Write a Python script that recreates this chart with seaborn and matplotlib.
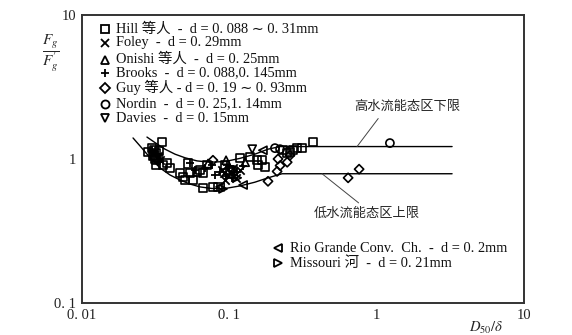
import matplotlib
matplotlib.use('Agg')
import matplotlib.pyplot as plt
import seaborn as sns
import pandas as pd
from matplotlib.lines import Line2D
from matplotlib.ticker import FixedLocator, NullLocator, FixedFormatter

sns.set_theme(style='white')
plt.rcParams['font.family'] = ['Liberation Serif', 'Noto Sans CJK SC', 'DejaVu Sans']
plt.rcParams['mathtext.fontset'] = 'stix'

# ---------------- data ----------------
hill_x = [0.0349, 0.0281, 0.0299, 0.0308, 0.0310, 0.0320, 0.0328, 0.0318, 0.0303, 0.0320,
          0.0355, 0.0377, 0.0396, 0.0462, 0.0485, 0.0500, 0.0567, 0.0541, 0.0604, 0.0633,
          0.0663, 0.0706, 0.0663, 0.0838, 0.0774, 0.118, 0.138, 0.154, 0.157, 0.175,
          0.167, 0.232, 0.247, 0.258, 0.271, 0.288, 0.312, 0.370, 0.0935, 0.101, 0.0525,
          0.0314, 0.0334]
hill_y = [1.31, 1.12, 1.19, 1.155, 1.07, 1.10, 1.02, 0.98, 1.05, 0.91,
          0.91, 0.94, 0.866, 0.80, 0.75, 0.715, 0.715, 0.80, 0.81, 0.84,
          0.80, 0.91, 0.63, 0.64, 0.64, 1.02, 1.03, 0.98, 0.91, 0.88,
          0.98, 1.155, 1.10, 1.12, 1.155, 1.19, 1.19, 1.31, 0.91, 0.84, 0.93,
          1.00, 1.13]
foley_x = [0.031, 0.0328, 0.0339, 0.089, 0.098, 0.106, 0.111, 0.0935, 0.118, 0.092, 0.102]
foley_y = [1.12, 1.05, 0.98, 0.84, 0.77, 0.866, 0.74, 0.715, 0.84, 0.80, 0.81]
onishi_x = [0.128, 0.095, 0.0717]
onishi_y = [0.95, 0.98, 0.93]
brooks_x = [0.0299, 0.0318, 0.033, 0.0541, 0.0585, 0.0684, 0.0865, 0.0964, 0.104, 0.113,
            0.124, 0.080, 0.076, 0.095, 0.108, 0.100]
brooks_y = [1.155, 1.08, 0.95, 0.94, 0.84, 0.866, 0.81, 0.91, 0.74, 0.81,
            0.89, 0.77, 0.91, 0.76, 0.78, 0.86]
guy_x = [0.0774, 0.183, 0.211, 0.221, 0.214, 0.247, 0.258, 0.64, 0.76]
guy_y = [0.98, 0.70, 0.82, 0.90, 1.00, 0.95, 1.06, 0.74, 0.85]
nordin_x = [0.204, 0.221, 1.23, 0.105]
nordin_y = [1.19, 1.17, 1.29, 0.84]
davies_x = [0.143]
davies_y = [1.17]
rio_x = [0.169, 0.124, 0.0865]
rio_y = [1.15, 0.66, 0.64]
missouri_x = [0.0906, 0.113]
missouri_y = [0.62, 0.74]

upper_x = [0.0276, 0.0313, 0.0366, 0.0428, 0.050, 0.0604, 0.0739, 0.0935, 0.118, 0.149,
           0.183, 0.221, 3.25]
upper_y = [1.42, 1.30, 1.17, 1.08, 1.02, 0.97, 0.95, 0.96, 1.01, 1.08,
           1.17, 1.22, 1.22]
lower_x = [0.0222, 0.0248, 0.029, 0.0339, 0.0396, 0.0462, 0.0541, 0.0633, 0.0763, 0.0935,
           0.118, 0.149, 0.183, 0.228, 3.25]
lower_y = [1.40, 1.23, 1.02, 0.866, 0.774, 0.715, 0.67, 0.64, 0.624, 0.624,
           0.65, 0.69, 0.74, 0.79, 0.79]

x_ticks = [0.01, 0.1, 1, 10]
x_ticklabels = ['0. 01', '0. 1', '1', '10']
y_ticks = [0.1, 1, 10]
y_ticklabels = ['0. 1', '1', '10']

labels = ['Hill 等人  -  d = 0. 088 ∼ 0. 31mm',
          'Foley  -  d = 0. 29mm',
          'Onishi 等人  -  d = 0. 25mm',
          'Brooks  -  d = 0. 088,0. 145mm',
          'Guy 等人 - d = 0. 19 ∼ 0. 93mm',
          'Nordin  -  d = 0. 25,1. 14mm',
          'Davies  -  d = 0. 15mm',
          'Rio Grande Conv.  Ch.  -  d = 0. 2mm',
          'Missouri 河  -  d = 0. 21mm']
upper_note = '高水流能态区下限'
lower_note = '低水流能态区上限'

# ---------------- figure ----------------
W, H = 572, 335
fig = plt.figure(figsize=(W / 100, H / 100), dpi=100)
ax = fig.add_axes([82 / W, 32 / H, 442 / W, 288 / H])

series = [
    (hill_x, hill_y, 's', labels[0]),
    (foley_x, foley_y, 'x', labels[1]),
    (onishi_x, onishi_y, '^', labels[2]),
    (brooks_x, brooks_y, '+', labels[3]),
    (guy_x, guy_y, 'D', labels[4]),
    (nordin_x, nordin_y, 'o', labels[5]),
    (davies_x, davies_y, 'v', labels[6]),
    (rio_x, rio_y, '<', labels[7]),
    (missouri_x, missouri_y, '>', labels[8]),
]

sns.lineplot(x=upper_x, y=upper_y, sort=False, color='black', lw=1.0, ax=ax)
sns.lineplot(x=lower_x, y=lower_y, sort=False, color='black', lw=1.0, ax=ax)

for xs, ys, mk, lab in series:
    df = pd.DataFrame({'x': xs, 'y': ys})
    if mk in ('x', '+'):
        sns.scatterplot(data=df, x='x', y='y', marker=mk, s=36, color='black',
                        linewidth=1.3, ax=ax, zorder=3, legend=False)
    else:
        sns.scatterplot(data=df, x='x', y='y', marker=mk, s=(22 if mk == 'D' else 34),
                        facecolors='none', edgecolor='black', linewidth=1.2,
                        ax=ax, zorder=3, legend=False)

ax.set_xscale('log')
ax.set_yscale('log')
ax.set_xlim(0.01, 10)
ax.set_ylim(0.1, 10)
ax.xaxis.set_major_locator(FixedLocator(x_ticks))
ax.xaxis.set_major_formatter(FixedFormatter(x_ticklabels))
ax.yaxis.set_major_locator(FixedLocator(y_ticks))
ax.yaxis.set_major_formatter(FixedFormatter(y_ticklabels))
ax.xaxis.set_minor_locator(NullLocator())
ax.yaxis.set_minor_locator(NullLocator())
ax.tick_params(axis='both', which='major', direction='in', length=5, width=0.9,
               color='#555555', labelsize=10.5, labelcolor='#222222', pad=4)
ax.set_xlabel('')
ax.set_ylabel('')
for sp in ax.spines.values():
    sp.set_linewidth(1.4)
    sp.set_color('#333333')

# legend keys + texts placed like the reference
legend_rows_top = [29, 42.5, 59.5, 73, 87.5, 104, 118]
legend_rows_bottom = [248, 263]
key_markers = [mk for _, _, mk, _ in series]


def key(xpix, ypix, mk):
    if mk in ('x', '+'):
        ln = Line2D([xpix / W], [1 - ypix / H], marker=mk, markersize=6.2, color='black',
                    markeredgewidth=1.3, linestyle='none', transform=fig.transFigure)
    else:
        ln = Line2D([xpix / W], [1 - ypix / H], marker=mk,
                    markersize=(4.8 if mk == 'D' else 5.8), markerfacecolor='none',
                    markeredgecolor='black', markeredgewidth=1.3, linestyle='none',
                    transform=fig.transFigure)
    fig.add_artist(ln)


for i, yp in enumerate(legend_rows_top):
    key(105, yp, key_markers[i])
    fig.text(116 / W, 1 - yp / H, labels[i], fontsize=10.4, ha='left', va='center',
             color='#111111')
for j, yp in enumerate(legend_rows_bottom):
    key(278, yp, key_markers[7 + j])
    fig.text(290 / W, 1 - yp / H, labels[7 + j], fontsize=10.4, ha='left', va='center',
             color='#111111')

# annotations
ax.annotate(upper_note, xy=(0.736, 1.22), xytext=(1.6, 2.3), fontsize=9.5,
            ha='center', va='center',
            arrowprops=dict(arrowstyle='-', color='#444444', lw=0.7,
                            shrinkA=2, shrinkB=0, relpos=(0.27, 0.0)))
ax.annotate(lower_note, xy=(0.426, 0.79), xytext=(0.86, 0.415), fontsize=9.5,
            ha='center', va='center',
            arrowprops=dict(arrowstyle='-', color='#444444', lw=0.7,
                            shrinkA=2, shrinkB=0, relpos=(0.48, 1.0)))

fig.text(51 / W, 1 - 53 / H, r'$\dfrac{F_{g}}{F^{\prime}_{g}}$', fontsize=11,
         ha='center', va='center')
fig.text(486 / W, 1 - 328 / H, r'$D_{50}/\delta$', fontsize=10.5,
         ha='center', va='center')

fig.savefig('out.png', dpi=100)
